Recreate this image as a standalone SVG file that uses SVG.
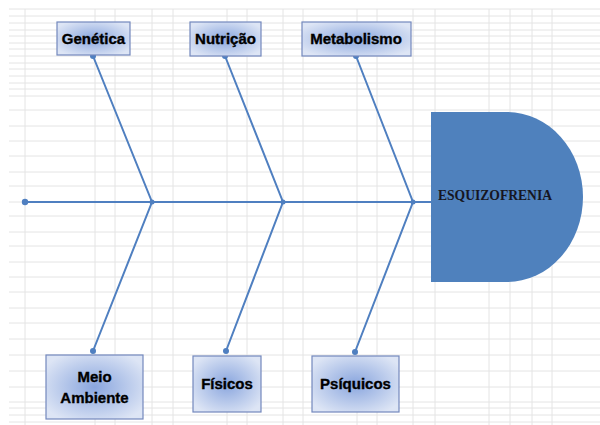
<svg xmlns="http://www.w3.org/2000/svg" width="600" height="425" viewBox="0 0 600 425">
<defs>
<radialGradient id="boxGrad" cx="50%" cy="50%" r="60%">
<stop offset="0" stop-color="#8aa6de"/>
<stop offset="1" stop-color="#dde5f5"/>
</radialGradient>
<style>
.grid line{stroke:#e4e4e4;stroke-width:1}
.box{fill:url(#boxGrad);stroke:#7388bd;stroke-width:1.2}
.lbl{font-family:"Liberation Sans",Arial,sans-serif;font-weight:bold;font-size:15px;fill:#000;stroke:#000;stroke-width:0.35;text-anchor:middle}
.bone{stroke:#4f7fc0;stroke-width:2;fill:none}
.dot{fill:#4f7fc0}
.head{fill:#4f81bd}
.htxt{font-family:"Liberation Serif","Times New Roman",serif;font-weight:bold;font-size:14.5px;fill:#161622}
</style>
</defs>
<rect width="600" height="425" fill="#fff"/>
<g class="grid">
<line x1="9" y1="9" x2="600" y2="9"/>
<line x1="9" y1="16" x2="600" y2="16"/>
<line x1="9" y1="23" x2="600" y2="23"/>
<line x1="9" y1="30" x2="600" y2="30"/>
<line x1="9" y1="36" x2="600" y2="36"/>
<line x1="9" y1="43" x2="600" y2="43"/>
<line x1="9" y1="49" x2="600" y2="49"/>
<line x1="9" y1="56" x2="600" y2="56"/>
<line x1="9" y1="63" x2="600" y2="63"/>
<line x1="9" y1="69" x2="600" y2="69"/>
<line x1="9" y1="76" x2="600" y2="76"/>
<line x1="9" y1="83" x2="600" y2="83"/>
<line x1="9" y1="89" x2="600" y2="89"/>
<line x1="9" y1="96" x2="600" y2="96"/>
<line x1="9" y1="110" x2="600" y2="110"/>
<line x1="9" y1="126" x2="600" y2="126"/>
<line x1="9" y1="141" x2="600" y2="141"/>
<line x1="9" y1="156" x2="600" y2="156"/>
<line x1="9" y1="172" x2="600" y2="172"/>
<line x1="9" y1="186" x2="600" y2="186"/>
<line x1="9" y1="202" x2="600" y2="202"/>
<line x1="9" y1="216" x2="600" y2="216"/>
<line x1="9" y1="232" x2="600" y2="232"/>
<line x1="9" y1="246" x2="600" y2="246"/>
<line x1="9" y1="262" x2="600" y2="262"/>
<line x1="9" y1="277" x2="600" y2="277"/>
<line x1="9" y1="292" x2="600" y2="292"/>
<line x1="9" y1="308" x2="600" y2="308"/>
<line x1="9" y1="323" x2="600" y2="323"/>
<line x1="9" y1="339" x2="600" y2="339"/>
<line x1="9" y1="355" x2="600" y2="355"/>
<line x1="9" y1="371" x2="600" y2="371"/>
<line x1="9" y1="387" x2="600" y2="387"/>
<line x1="9" y1="402" x2="600" y2="402"/>
<line x1="9" y1="408" x2="600" y2="408"/>
<line x1="9" y1="415" x2="600" y2="415"/>
<line x1="9" y1="422" x2="600" y2="422"/>
<line x1="25" y1="9" x2="25" y2="425"/>
<line x1="95" y1="9" x2="95" y2="425"/>
<line x1="115" y1="9" x2="115" y2="425"/>
<line x1="152" y1="9" x2="152" y2="425"/>
<line x1="173" y1="9" x2="173" y2="425"/>
<line x1="227" y1="9" x2="227" y2="425"/>
<line x1="247" y1="9" x2="247" y2="425"/>
<line x1="283" y1="9" x2="283" y2="425"/>
<line x1="303" y1="9" x2="303" y2="425"/>
<line x1="357" y1="9" x2="357" y2="425"/>
<line x1="377" y1="9" x2="377" y2="425"/>
<line x1="413" y1="9" x2="413" y2="425"/>
<line x1="435" y1="9" x2="435" y2="425"/>
<line x1="489" y1="9" x2="489" y2="425"/>
<line x1="510" y1="9" x2="510" y2="425"/>
<line x1="532" y1="9" x2="532" y2="425"/>
<line x1="552" y1="9" x2="552" y2="425"/>
</g>
<g id="connectors">
<line class="bone" x1="25" y1="202" x2="432" y2="202"/>
<polyline class="bone" points="93,56 152,202 93,351"/>
<polyline class="bone" points="225,56 283,202 226,351"/>
<polyline class="bone" points="356,56 413,202 355,352"/>
<circle class="dot" cx="25" cy="202" r="3.2"/>
<circle class="dot" cx="152" cy="202" r="2.5"/>
<circle class="dot" cx="283" cy="202" r="2.5"/>
<circle class="dot" cx="413" cy="202" r="2.5"/>
<circle class="dot" cx="93" cy="56" r="3"/>
<circle class="dot" cx="225" cy="56" r="3"/>
<circle class="dot" cx="356" cy="56" r="3"/>
<circle class="dot" cx="93" cy="351" r="3"/>
<circle class="dot" cx="226" cy="351" r="3"/>
<circle class="dot" cx="355" cy="352" r="3"/>
</g>
<g id="head">
<path class="head" d="M431,112 H507 A76,85 0 0 1 507,282 H431 Z"/>
<text class="htxt" x="438" y="200" textLength="114" lengthAdjust="spacingAndGlyphs">ESQUIZOFRENIA</text>
</g>
<g id="genetica">
<rect class="box" x="57" y="22" width="73" height="33"/>
<text class="lbl" x="93.5" y="44">Genética</text>
</g>
<g id="nutricao">
<rect class="box" x="190" y="22" width="71" height="34"/>
<text class="lbl" x="225.5" y="44">Nutrição</text>
</g>
<g id="metabolismo">
<rect class="box" x="302" y="22" width="109" height="34"/>
<text class="lbl" x="356" y="44">Metabolismo</text>
</g>
<g id="meio-ambiente">
<rect class="box" x="46" y="355" width="97" height="64"/>
<text class="lbl" x="94.5" y="382">Meio</text>
<text class="lbl" x="94.5" y="403">Ambiente</text>
</g>
<g id="fisicos">
<rect class="box" x="193" y="356" width="68" height="56"/>
<text class="lbl" x="227" y="389">Físicos</text>
</g>
<g id="psiquicos">
<rect class="box" x="312" y="356" width="87" height="56"/>
<text class="lbl" x="355.5" y="389">Psíquicos</text>
</g>
</svg>
